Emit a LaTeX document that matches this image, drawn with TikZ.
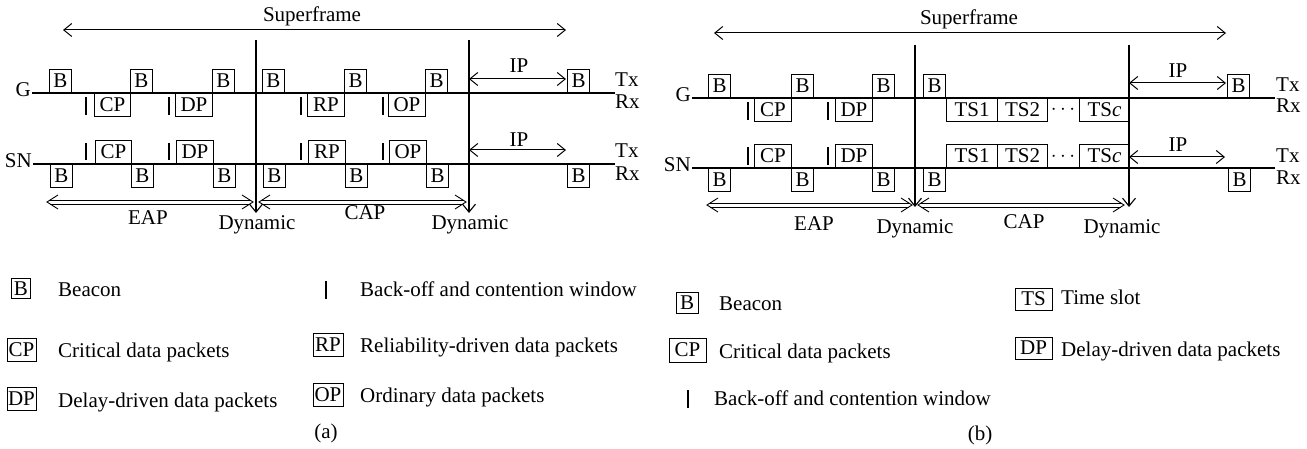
\documentclass[tikz,border=0pt]{standalone}
\usepackage{fontspec}
\setmainfont{Liberation Serif}
\usetikzlibrary{arrows.meta}
\newcommand{\dblarr}[2]{%
  \draw[dblln] ([shift={(11,-7)}]#1) -- (#1) -- ([shift={(11,7)}]#1);
  \draw[dblln] ([shift={(-11,-7)}]#2) -- (#2) -- ([shift={(-11,7)}]#2);
  \draw[dblln] ([shift={(3.2,-2)}]#1) -- ([shift={(-3.2,-2)}]#2);
  \draw[dblln] ([shift={(3.2,2)}]#1) -- ([shift={(-3.2,2)}]#2);
}
\begin{document}
\begin{tikzpicture}[x=1pt,y=-1pt,
  every node/.style={font=\fontsize{21}{25}\selectfont, inner sep=0pt},
  pkt/.style={draw, line width=1pt, minimum height=23pt, inner sep=0pt},
  bw/.style={pkt, minimum width=22pt},
  cw/.style={pkt, minimum width=37pt},
  tw/.style={pkt, minimum width=51pt},
  up/.style={anchor=south west},
  dn/.style={anchor=north west},
  tl/.style={line width=1.1pt},
  barln/.style={line width=1.1pt},
  barb/.style={line width=1pt, {Straight Barb[length=8pt,width=13pt]}-{Straight Barb[length=8pt,width=13pt]}},
  vdown/.style={line width=1.1pt, -{Straight Barb[length=8pt,width=13pt]}},
  dblln/.style={line width=0.9pt, line join=miter},
  lbl/.style={anchor=base},
  lw/.style={anchor=base west},
]
\useasboundingbox (0,0) rectangle (1307,449);

% ================= panel (a) =================
\node[lbl] (sfa) at (312,22) {Superframe};
\coordinate (sfaL) at (63,30); \coordinate (sfaR) at (566,30);
\draw[barb] (sfaL) -- (sfaR);
\coordinate (va1t) at (256,40); \coordinate (va1b) at (256,213);
\coordinate (va2t) at (469,40); \coordinate (va2b) at (469,213);
\draw[vdown] (va1t) -- (va1b);
\draw[vdown] (va2t) -- (va2b);

% G row
\node[anchor=base east] (Ga) at (31,97) {G};
\coordinate (Gas) at (32,93); \coordinate (Gae) at (615,93);
\draw[tl] (Gas) -- (Gae);
\node[lw] (Txa1) at (615,87) {Tx};
\node[lw] (Rxa1) at (615,109) {Rx};
\node[bw,up] (gaB1) at (49,93) {B};
\node[cw,dn,minimum width=36pt] (gaCP) at (94,93) {CP};
\node[bw,up] (gaB2) at (130,93) {B};
\node[cw,dn] (gaDP) at (175,93) {DP};
\node[bw,up] (gaB3) at (212,93) {B};
\node[bw,up] (gaB4) at (262,93) {B};
\node[cw,dn] (gaRP) at (307,93) {RP};
\node[bw,up] (gaB5) at (344,93) {B};
\node[cw,dn] (gaOP) at (388,93) {OP};
\node[bw,up] (gaB6) at (425,93) {B};
\node[bw,up] (gaB7) at (567,93) {B};
\foreach \x in {86,169,301,383} \draw[barln] (\x,97) -- (\x,115);
\coordinate (ipa1L) at (469,79); \coordinate (ipa1R) at (566,79);
\draw[barb] (ipa1L) -- (ipa1R);
\node[lbl] (ipa1) at (519,73) {IP};

% SN row
\node[anchor=base east] (SNa) at (32,168) {SN};
\coordinate (SNas) at (33,164); \coordinate (SNae) at (615,164);
\draw[tl] (SNas) -- (SNae);
\node[lw] (Txa2) at (615,158) {Tx};
\node[lw] (Rxa2) at (615,181) {Rx};
\node[bw,dn] (saB1) at (50,164) {B};
\node[cw,up,minimum width=36pt] (saCP) at (95,164) {CP};
\node[bw,dn] (saB2) at (131,164) {B};
\node[cw,up] (saDP) at (176,164) {DP};
\node[bw,dn] (saB3) at (213,164) {B};
\node[bw,dn] (saB4) at (263,164) {B};
\node[cw,up] (saRP) at (308,164) {RP};
\node[bw,dn] (saB5) at (345,164) {B};
\node[cw,up] (saOP) at (389,164) {OP};
\node[bw,dn] (saB6) at (426,164) {B};
\node[bw,dn] (saB7) at (567,164) {B};
\foreach \x in {86,169,301,383} \draw[barln] (\x,143) -- (\x,160);
\coordinate (ipa2L) at (469,150); \coordinate (ipa2R) at (566,150);
\draw[barb] (ipa2L) -- (ipa2R);
\node[lbl] (ipa2) at (519,147) {IP};

% periods
\coordinate (eapaL) at (47,202); \coordinate (eapaR) at (253,202);
\coordinate (capaL) at (259,202); \coordinate (capaR) at (466,202);
\dblarr{eapaL}{eapaR}
\dblarr{capaL}{capaR}
\node[lbl] (eapa) at (148,225) {EAP};
\node[lbl] (dyna1) at (257,230) {Dynamic};
\node[lbl] (capa) at (365,220) {CAP};
\node[lbl] (dyna2) at (470,230) {Dynamic};

% legend (a)
\node[pkt,minimum width=19pt,minimum height=20pt] (laB) at (21,288.5) {B};
\node[lw] (laBt) at (58,297) {Beacon};
\node[pkt,minimum width=29pt] (laCP) at (21.5,349.5) {CP};
\node[lw] (laCPt) at (58,357) {Critical data packets};
\node[pkt,minimum width=29pt] (laDP) at (21.5,398.5) {DP};
\node[lw] (laDPt) at (58,407) {Delay-driven data packets};
\draw[barln] (326,281) -- (326,299);
\node[lw] (laBOt) at (360,297) {Back-off and contention window};
\node[pkt,minimum width=30pt] (laRP) at (328,344.5) {RP};
\node[lw] (laRPt) at (360,352) {Reliability-driven data packets};
\node[pkt,minimum width=30pt] (laOP) at (328,394.5) {OP};
\node[lw] (laOPt) at (360,402) {Ordinary data packets};
\node[lbl] (capta) at (326,438) {(a)};

% ================= panel (b) =================
\node[lbl] (sfb) at (969,25) {Superframe};
\coordinate (sfbL) at (714,33); \coordinate (sfbR) at (1226,33);
\draw[barb] (sfbL) -- (sfbR);
\coordinate (vb1t) at (915,45); \coordinate (vb1b) at (915,207);
\coordinate (vb2t) at (1129,45); \coordinate (vb2b) at (1129,207);
\draw[vdown] (vb1t) -- (vb1b);
\draw[vdown] (vb2t) -- (vb2b);

% G row
\node[anchor=base east] (Gb) at (691,102) {G};
\coordinate (Gbs) at (692,98); \coordinate (Gbe) at (1275,98);
\draw[tl] (Gbs) -- (Gbe);
\node[lw] (Txb1) at (1276,92) {Tx};
\node[lw] (Rxb1) at (1276,113) {Rx};
\node[bw,up] (gbB1) at (708,98) {B};
\node[cw,dn] (gbCP) at (754,98) {CP};
\node[bw,up] (gbB2) at (791,98) {B};
\node[cw,dn] (gbDP) at (835,98) {DP};
\node[bw,up] (gbB3) at (872,98) {B};
\node[bw,up] (gbB4) at (923,98) {B};
\node[tw,dn] (gbT1) at (946,98) {TS1};
\node[tw,dn,minimum width=50pt] (gbT2) at (997,98) {TS2};
\node (gbdots) at (1063,110) {$\cdots$};
\node[tw,dn,minimum width=50pt] (gbTc) at (1079,98) {TS\textit{c}};
\node[bw,up] (gbB5) at (1227,98) {B};
\foreach \x in {748,828} \draw[barln] (\x,102) -- (\x,120);
\coordinate (ipb1L) at (1129,83); \coordinate (ipb1R) at (1226,83);
\draw[barb] (ipb1L) -- (ipb1R);
\node[lbl] (ipb1) at (1178,78) {IP};

% SN row
\node[anchor=base east] (SNb) at (691,172) {SN};
\coordinate (SNbs) at (692,168); \coordinate (SNbe) at (1275,168);
\draw[tl] (SNbs) -- (SNbe);
\node[lw] (Txb2) at (1276,163) {Tx};
\node[lw] (Rxb2) at (1276,185) {Rx};
\node[bw,dn] (sbB1) at (708,168) {B};
\node[cw,up] (sbCP) at (754,168) {CP};
\node[bw,dn] (sbB2) at (791,168) {B};
\node[cw,up] (sbDP) at (835,168) {DP};
\node[bw,dn] (sbB3) at (872,168) {B};
\node[bw,dn] (sbB4) at (923,168) {B};
\node[tw,up] (sbT1) at (946,168) {TS1};
\node[tw,up,minimum width=50pt] (sbT2) at (997,168) {TS2};
\node (sbdots) at (1063,157) {$\cdots$};
\node[tw,up,minimum width=50pt] (sbTc) at (1079,168) {TS\textit{c}};
\node[bw,dn] (sbB5) at (1228,168) {B};
\foreach \x in {748,828} \draw[barln] (\x,147) -- (\x,165);
\coordinate (ipb2L) at (1129,157); \coordinate (ipb2R) at (1225,157);
\draw[barb] (ipb2L) -- (ipb2R);
\node[lbl] (ipb2) at (1178,152) {IP};

% periods
\coordinate (eapbL) at (707,205); \coordinate (eapbR) at (912,205);
\coordinate (capbL) at (918,205); \coordinate (capbR) at (1124,205);
\dblarr{eapbL}{eapbR}
\dblarr{capbL}{capbR}
\node[lbl] (eapb) at (814,231) {EAP};
\node[lbl] (dynb1) at (915,234) {Dynamic};
\node[lbl] (capb) at (1024,229) {CAP};
\node[lbl] (dynb2) at (1122,234) {Dynamic};

% legend (b)
\node[pkt,minimum width=22pt,minimum height=21pt] (lbB) at (687,303) {B};
\node[lw] (lbBt) at (719,310) {Beacon};
\node[pkt,minimum width=37pt,minimum height=24pt] (lbCP) at (687.5,350) {CP};
\node[lw] (lbCPt) at (719,358) {Critical data packets};
\draw[barln] (688,390) -- (688,408);
\node[lw] (lbBOt) at (714,405) {Back-off and contention window};
\node[pkt,minimum width=37pt,minimum height=22pt] (lbTS) at (1033.5,299) {TS};
\node[lw] (lbTSt) at (1061,305) {Time slot};
\node[pkt,minimum width=37pt,minimum height=22pt] (lbDP) at (1033.5,348) {DP};
\node[lw] (lbDPt) at (1061,356) {Delay-driven data packets};
\node[lbl] (captb) at (980,440) {(b)};
\end{tikzpicture}
\end{document}
